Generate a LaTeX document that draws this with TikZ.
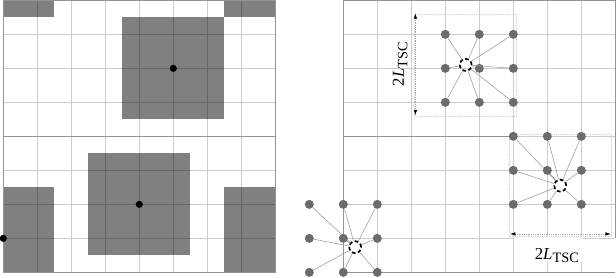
\documentclass[tikz,border=0pt]{standalone}
\usepackage{fontspec}
\setmainfont{Liberation Serif}
\usepackage{tikz}
\usetikzlibrary{arrows.meta}
\definecolor{cellgray}{HTML}{808080}
\definecolor{nodegray}{HTML}{6B6B6B}
\definecolor{linkgray}{HTML}{A0A0A0}
\newcommand{\tscwidth}{{\fontsize{14}{16}\selectfont 2\textit{L}\raisebox{-0.45ex}{\fontsize{12}{14}\selectfont TSC}}}

\begin{document}
\begin{tikzpicture}[
  gridline/.style={black,opacity=0.2,line width=0.6pt},
  frame/.style={black!42,line width=0.7pt},
  shade/.style={fill=cellgray},
  centre/.style={circle,fill=black,inner sep=0pt,minimum size=2.1mm},
  gp/.style={circle,fill=nodegray,inner sep=0pt,minimum size=2.65mm},
  tsc/.style={circle,draw=black,line width=1.4pt,dash pattern=on 1.1mm off 0.7mm,inner sep=0pt,minimum size=3.5mm},
  link/.style={linkgray,line width=0.5pt},
  box/.style={black!18,densely dotted,line width=0.5pt},
  dim/.style={black!35,densely dotted,line width=0.5pt,
    {Latex[black,length=1.6mm,width=1mm]}-{Latex[black,length=1.6mm,width=1mm]}}
]
  \useasboundingbox (-0.097,-0.138) rectangle (18.02,8.01);
  % left panel: cells around each particle
  \begin{scope}
    \clip (0,0) rectangle (8,8);
    \foreach \cx/\cy in {5/6,4/2,0/1,8/1,0/9,8/9}
      \fill[shade] (\cx-1.5,\cy-1.5) rectangle (\cx+1.5,\cy+1.5);
  \end{scope}
  \draw[gridline] (0,0) grid (8,8);
  \draw[frame] (0,4) -- (8,4);
  \draw[frame] (0,0) rectangle (8,8);
  \node[centre] (pA) at (5,6) {};
  \node[centre] (pB) at (4,2) {};
  \node[centre] (pC) at (0,1) {};
  % right panel: grid points linked to each particle
  \draw[gridline] (10,0) grid (17.99,8);
  \draw[frame] (10,0) -- (10,8) -- (18,8) -- (18,1);
  \draw[frame] (10,0) -- (18,0);
  \draw[frame] (10,4) -- (15,4);
  \fill[white] (15.03,0.3) rectangle (17.03,1.03);
  \draw[box] (12.1,4.6) rectangle (15.1,7.6);
  \draw[box] (14.88,1.05) rectangle (17.88,4.05);
  \node[tsc] (qA) at (13.6,6.1) {};
  \node[tsc] (qB) at (16.38,2.55) {};
  \node[tsc] (qC) at (10.35,0.74) {};
  \foreach \i in {13,14,15}
    \foreach \j in {5,6,7} {
      \node[gp] (gA-\i-\j) at (\i,\j) {};
      \draw[link] (gA-\i-\j) -- (qA);
    }
  \foreach \i in {15,16,17}
    \foreach \j in {2,3,4} {
      \node[gp] (gB-\i-\j) at (\i,\j) {};
      \draw[link] (gB-\i-\j) -- (qB);
    }
  \foreach \i in {9,10,11}
    \foreach \j in {0,1,2} {
      \node[gp] (gC-\i-\j) at (\i,\j) {};
      \draw[link] (gC-\i-\j) -- (qC);
    }
  % widths of the shape function
  \coordinate (vA) at (12.12,4.62);
  \coordinate (vB) at (12.12,7.62);
  \draw[dim] (vA) -- (vB);
  \node[rotate=90] (wA) at (11.67,6.12) {\tscwidth};
  \coordinate (hA) at (14.9,1.13);
  \coordinate (hB) at (17.87,1.13);
  \draw[dim] (hA) -- (hB);
  \node (wB) at (16.28,0.5) {\tscwidth};
\end{tikzpicture}
\end{document}
